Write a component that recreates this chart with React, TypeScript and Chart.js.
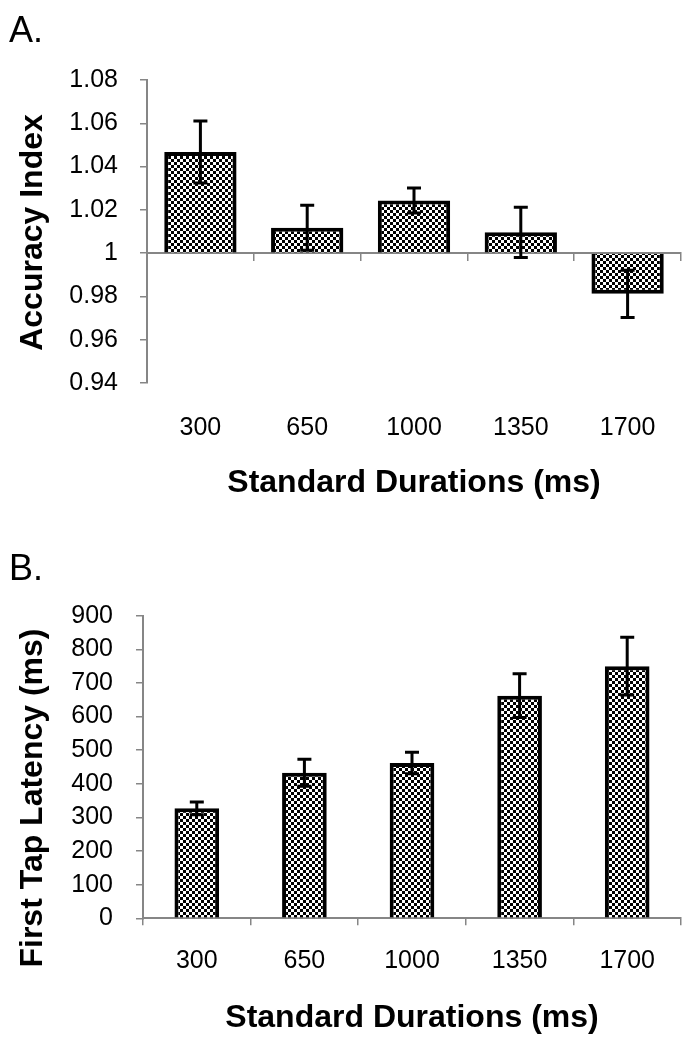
import React, { useEffect, useRef } from "react";
import { Chart, registerables } from "chart.js";

Chart.register(...registerables);

// ---- data ----
const categories = ["300", "650", "1000", "1350", "1700"];
const accuracyMeans = [1.0467, 1.0117, 1.0243, 1.0096, 0.9812];
const accuracyErrors = [0.0143, 0.0104, 0.0058, 0.0116, 0.0109];
const accuracyTicks = [0.94, 0.96, 0.98, 1.0, 1.02, 1.04, 1.06, 1.08];
const latencyMeans = [327, 433, 462, 662, 750];
const latencyErrors = [19, 40, 32, 65, 86];
const latencyTicks = [0, 100, 200, 300, 400, 500, 600, 700, 800, 900];
const xAxisTitle = "Standard Durations (ms)";
const accuracyTitle = "Accuracy Index";
const latencyTitle = "First Tap Latency (ms)";

const FONT = "'Liberation Sans', Arial, Helvetica, sans-serif";
const GRAY = "#868686";

function makePattern(): CanvasPattern | string {
  const c = document.createElement("canvas");
  c.width = 6;
  c.height = 6;
  const g = c.getContext("2d");
  if (!g) return "#888";
  g.fillStyle = "#fff";
  g.fillRect(0, 0, 6, 6);
  g.fillStyle = "#000";
  g.fillRect(0, 0, 3, 3);
  g.fillRect(3, 3, 3, 3);
  return g.createPattern(c, "repeat") || "#888";
}

function errorBarPlugin(errors: number[]) {
  return {
    id: "errorBars",
    afterDatasetsDraw(chart: any) {
      const meta = chart.getDatasetMeta(0);
      const yScale = chart.scales.y;
      const values = chart.data.datasets[0].data as number[];
      const ctx = chart.ctx;
      ctx.save();
      ctx.strokeStyle = "#000";
      ctx.lineWidth = 3;
      meta.data.forEach((bar: any, i: number) => {
        const v = values[i];
        const e = errors[i];
        const x = bar.x;
        const yt = yScale.getPixelForValue(v + e);
        const yb = yScale.getPixelForValue(v - e);
        const hw = 7;
        ctx.beginPath();
        ctx.moveTo(x, yt);
        ctx.lineTo(x, yb);
        ctx.moveTo(x - hw, yt);
        ctx.lineTo(x + hw, yt);
        ctx.moveTo(x - hw, yb);
        ctx.lineTo(x + hw, yb);
        ctx.stroke();
      });
      ctx.restore();
    },
  };
}

function yTitlePlugin(text: string, baselineX: number, centerOffset: number) {
  return {
    id: "yTitle",
    afterDraw(chart: any) {
      const { ctx, chartArea } = chart;
      const cy = (chartArea.top + chartArea.bottom) / 2 + centerOffset;
      ctx.save();
      ctx.translate(baselineX, cy);
      ctx.rotate(-Math.PI / 2);
      ctx.font = `bold 32px ${FONT}`;
      ctx.fillStyle = "#000";
      ctx.textAlign = "center";
      ctx.textBaseline = "alphabetic";
      ctx.fillText(text, 0, 0);
      ctx.restore();
    },
  };
}

function fmt(v: number) {
  return String(Number(v.toFixed(2)));
}

function configA(): any {
  return {
    type: "bar",
    data: {
      labels: categories,
      datasets: [
        {
          data: accuracyMeans,
          base: 1,
          xAxisID: "x",
          yAxisID: "y",
          backgroundColor: makePattern(),
          borderColor: "#000",
          borderWidth: 4,
          borderSkipped: "start",
          categoryPercentage: 1,
          barPercentage: 0.677,
        },
      ],
    },
    options: {
      responsive: false,
      animation: false,
      devicePixelRatio: 1,
      layout: { padding: { left: 9, right: 12, top: 0, bottom: 0 } },
      plugins: {
        legend: { display: false },
        tooltip: { enabled: false },
        title: {
          display: true,
          text: "A.",
          align: "start",
          color: "#000",
          font: { family: FONT, size: 36, weight: "normal", lineHeight: 1.2 },
          padding: { top: 10, bottom: 26.8 },
        },
      },
      scales: {
        x: {
          type: "category",
          position: "bottom",
          offset: true,
          grid: { display: false, drawTicks: false },
          border: { display: false },
          ticks: {
            color: "#000",
            font: { family: FONT, size: 25 },
            padding: 30,
            maxRotation: 0,
            autoSkip: false,
          },
          title: {
            display: true,
            text: xAxisTitle,
            color: "#000",
            font: { family: FONT, size: 32, weight: "bold", lineHeight: 1.2 },
            padding: { top: 0, bottom: 22.8 },
          },
          afterFit: (s: any) => {
            s.height = 142;
          },
        },
        xBase: {
          type: "category",
          axis: "x",
          position: { y: 1 },
          offset: true,
          grid: {
            offset: true,
            drawOnChartArea: false,
            drawTicks: true,
            tickLength: 7,
            color: GRAY,
            lineWidth: 1.5,
          },
          border: { display: true, color: GRAY, width: 2 },
          ticks: { display: false },
        },
        y: {
          type: "linear",
          position: "left",
          min: 0.94,
          max: 1.08,
          afterBuildTicks: (s: any) => {
            s.ticks = accuracyTicks.map((v) => ({ value: v }));
          },
          grid: { drawOnChartArea: false, tickLength: 7, color: GRAY, lineWidth: 1.5 },
          border: { color: GRAY, width: 2 },
          ticks: {
            color: "#000",
            font: { family: FONT, size: 25 },
            padding: 22,
            callback: (v: number) => fmt(v),
          },
          afterFit: (s: any) => {
            s.width = 138;
          },
        },
      },
    },
    plugins: [errorBarPlugin(accuracyErrors), yTitlePlugin(accuracyTitle, 42, 1)],
  };
}

function configB(): any {
  return {
    type: "bar",
    data: {
      labels: categories,
      datasets: [
        {
          data: latencyMeans,
          xAxisID: "x",
          yAxisID: "y",
          backgroundColor: makePattern(),
          borderColor: "#000",
          borderWidth: 4,
          borderSkipped: "start",
          categoryPercentage: 1,
          barPercentage: 0.415,
        },
      ],
    },
    options: {
      responsive: false,
      animation: false,
      devicePixelRatio: 1,
      layout: { padding: { left: 9, right: 12, top: 0, bottom: 0 } },
      plugins: {
        legend: { display: false },
        tooltip: { enabled: false },
        title: {
          display: true,
          text: "B.",
          align: "start",
          color: "#000",
          font: { family: FONT, size: 36, weight: "normal", lineHeight: 1.2 },
          padding: { top: 23.4, bottom: 24.1 },
        },
      },
      scales: {
        x: {
          type: "category",
          position: "bottom",
          offset: true,
          grid: {
            offset: true,
            drawOnChartArea: false,
            drawTicks: true,
            tickLength: 7,
            color: GRAY,
            lineWidth: 1.5,
          },
          border: { display: true, color: GRAY, width: 2 },
          ticks: {
            color: "#000",
            font: { family: FONT, size: 25 },
            padding: 20.7,
            maxRotation: 0,
            autoSkip: false,
          },
          title: {
            display: true,
            text: xAxisTitle,
            color: "#000",
            font: { family: FONT, size: 32, weight: "bold", lineHeight: 1.2 },
            padding: { top: 0, bottom: 12.8 },
          },
          afterFit: (s: any) => {
            s.height = 131.7;
          },
        },
        y: {
          type: "linear",
          position: "left",
          min: 0,
          max: 900,
          afterBuildTicks: (s: any) => {
            s.ticks = latencyTicks.map((v) => ({ value: v }));
          },
          grid: { drawOnChartArea: false, tickLength: 7, color: GRAY, lineWidth: 1.5 },
          border: { color: GRAY, width: 2 },
          ticks: {
            color: "#000",
            font: { family: FONT, size: 25 },
            padding: 23,
            callback: (v: number) => String(v),
          },
          afterFit: (s: any) => {
            s.width = 134;
          },
        },
      },
    },
    plugins: [errorBarPlugin(latencyErrors), yTitlePlugin(latencyTitle, 42, 31)],
  };
}

function ChartPanel({ make }: { make: () => any }) {
  const ref = useRef<HTMLCanvasElement | null>(null);
  useEffect(() => {
    if (!ref.current) return;
    const chart = new Chart(ref.current, make());
    return () => chart.destroy();
  }, [make]);
  return <canvas ref={ref} width={693} height={525} style={{ display: "block", width: 693, height: 525 }} />;
}

export default function App() {
  return (
    <div
      style={{
        position: "absolute",
        left: 0,
        top: 0,
        width: 693,
        height: 1050,
        background: "#fff",
      }}
    >
      <ChartPanel make={configA} />
      <ChartPanel make={configB} />
    </div>
  );
}
